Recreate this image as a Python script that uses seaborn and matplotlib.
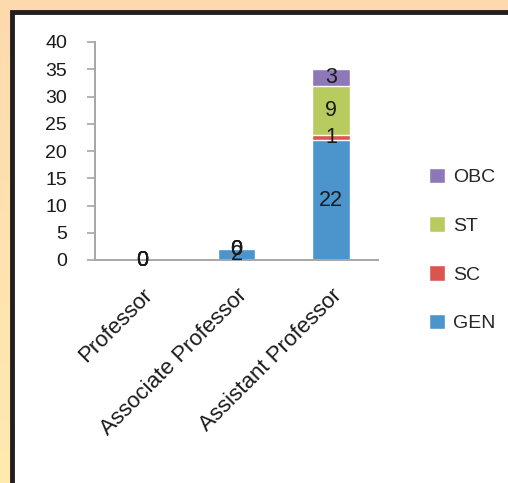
import numpy as np
import pandas as pd
import seaborn as sns
import matplotlib.pyplot as plt
from matplotlib.patches import Rectangle, Patch

# Chart data
posts = ["Professor", "Associate Professor", "Assistant Professor"]
gen = [0, 2, 22]
sc = [0, 0, 1]
st = [0, 0, 9]
obc = [0, 0, 3]
categories = ["GEN", "SC", "ST", "OBC"]
colors = {"GEN": "#4B94CC", "SC": "#DA5550", "ST": "#B8CB5F", "OBC": "#8F78B8"}
y_ticks = [0, 5, 10, 15, 20, 25, 30, 35, 40]

sns.set_style("white")
plt.rcParams["font.family"] = ["Liberation Sans", "DejaVu Sans"]

fig = plt.figure(figsize=(5.08, 4.83), dpi=100)

# Background: peach gradient with white panel framed in dark border
bg = fig.add_axes([0, 0, 1, 1], zorder=-10)
grad = np.linspace(0, 1, 256).reshape(-1, 1)
top = np.array([253, 218, 174]) / 255
bottom = np.array([255, 234, 176]) / 255
img = top + (bottom - top) * grad[:, :, None]
bg.imshow(img, aspect="auto", extent=[0, 1, 0, 1], origin="upper")
bg.add_patch(Rectangle((12 / 508, -0.1), 1.2, 1 - 12 / 483 + 0.1,
                       transform=bg.transAxes, facecolor="white",
                       edgecolor="#231F20", linewidth=3.5))
bg.set_xlim(0, 1)
bg.set_ylim(0, 1)
bg.axis("off")

ax = fig.add_axes([95 / 508, 1 - 260 / 483, (378 - 95) / 508, (260 - 42) / 483])
ax.set_facecolor("none")

df = pd.DataFrame({"post": posts, "GEN": gen, "SC": sc, "ST": st, "OBC": obc})
cum = df[categories].cumsum(axis=1)

# stacked bars: draw the tallest cumulative layer first
for cat in reversed(categories):
    sns.barplot(x=df["post"], y=cum[cat], color=colors[cat], width=0.4,
                saturation=1, ax=ax, order=posts)

# segment value labels
for i in range(len(posts)):
    base = 0
    for cat in categories:
        v = df.loc[i, cat]
        ax.text(i, base + v / 2, str(v), ha="center", va="center",
                fontsize=15.5, color="#1a1a1a")
        base += v

ax.set_xlim(-0.5, 2.5)
ax.set_ylim(0, 40)
ax.set_yticks(y_ticks)
ax.set_xlabel("")
ax.set_ylabel("")
ax.set_xticks(range(len(posts)))
ax.set_xticklabels(posts, rotation=45, ha="right", rotation_mode="anchor",
                   fontsize=16, color="#1a1a1a")
ax.set_xticks([-0.5, 0.5, 1.5, 2.5], minor=True)
ax.tick_params(axis="x", which="major", length=0, pad=18)
ax.tick_params(axis="x", which="minor", length=6, color="#A6A6A6", width=1.2)
ax.tick_params(axis="y", length=6, color="#A6A6A6", width=1.2, labelsize=14,
               labelcolor="#1a1a1a", left=True, pad=14)
for s in ["top", "right"]:
    ax.spines[s].set_visible(False)
for s in ["left", "bottom"]:
    ax.spines[s].set_color("#A6A6A6")
    ax.spines[s].set_linewidth(1.4)

handles = [Patch(facecolor=colors[c], label=c) for c in reversed(categories)]
fig.legend(handles=handles, loc="center left", bbox_to_anchor=(419 / 508, 1 - 250 / 483),
           frameon=False, fontsize=14, labelspacing=1.55, handlelength=0.85,
           handleheight=0.85, handletextpad=0.4, borderpad=0)

fig.savefig("out.png", dpi=100)
